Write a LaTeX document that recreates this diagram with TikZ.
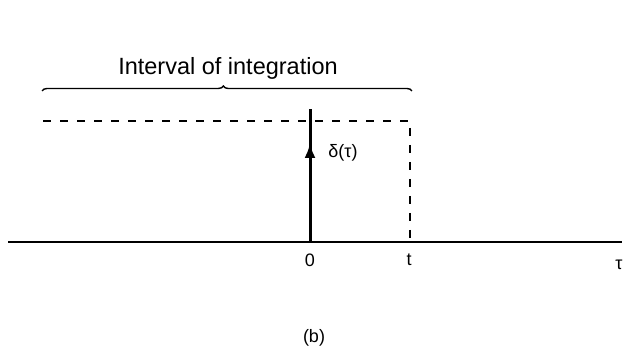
\documentclass[tikz,border=0pt]{standalone}
\usepackage{fontspec}
\setmainfont{Liberation Sans}
\usetikzlibrary{arrows.meta,positioning,decorations.pathreplacing}
\tikzset{
  axisline/.style={line width=1.7pt, draw=black},
  guide/.style={dash pattern=on 8pt off 9pt, line width=2pt},
  impulse/.style={line width=3pt},
  lbl/.style={font=\fontsize{18}{21}\selectfont, inner sep=1pt},
  bigbrace/.style={decorate, decoration={brace, amplitude=5pt, aspect=0.49}, line width=1.4pt}
}

\begin{document}
\begin{tikzpicture}[x=1pt,y=-1pt]
  \useasboundingbox (0,0) rectangle (625,352);
  % time axis
  \coordinate (left) at (8,242);
  \coordinate (right) at (622,242);
  \coordinate (origin) at (310,242);
  \coordinate (top) at (310,109);
  \coordinate (tip) at (310,143);
  \coordinate (dashleft) at (43,121);
  \coordinate (dashcorner) at (410,121);
  \coordinate (dashfoot) at (410,242);
  \coordinate (braceleft) at (42,91);
  \coordinate (braceright) at (412,91);
  \draw[axisline] (left) -- (right);
  % impulse
  \draw[impulse] (origin) -- (top);
  \draw[impulse, -{Latex[length=15pt,width=11pt]}] (origin) -- (tip);
  % dashed bound
  \draw[guide] (dashleft) -- (dashcorner) -- (dashfoot);
  % interval brace
  \draw[bigbrace] (braceleft) -- (braceright);
  \node[lbl, font=\fontsize{23.5}{27}\selectfont, anchor=base] (interval) at (228,75) {Interval of integration};
  \node[lbl] (delta) at (343,153) {δ(τ)};
  \node[lbl] (zero) at (310,260) {0};
  \node[lbl] (tee) at (409,260) {t};
  \node[lbl] (tau) at (619,265) {τ};
  \node[lbl] (caption) at (314,338) {(b)};
\end{tikzpicture}
\end{document}
